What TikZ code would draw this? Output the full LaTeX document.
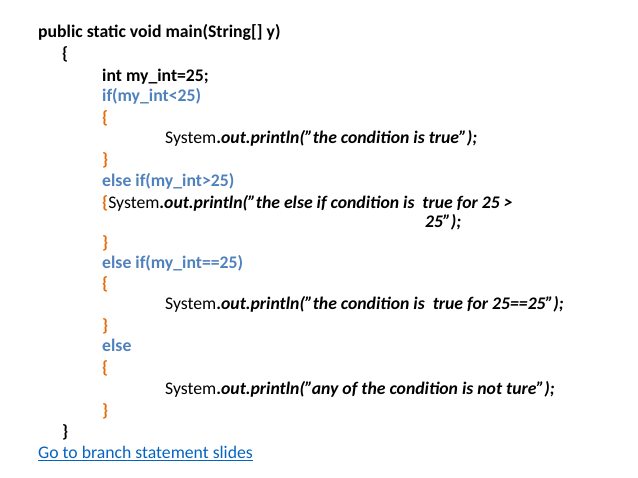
\documentclass[tikz,border=0pt]{standalone}
\usepackage{fontspec}
\setmainfont{Carlito}
\definecolor{kw}{HTML}{4F81BD}
\definecolor{br}{HTML}{E46C0A}
\definecolor{lk}{HTML}{0563C1}
\begin{document}
\begin{tikzpicture}[x=1pt,y=-1pt,
  t/.style={anchor=base west,inner sep=0pt,font=\fontsize{17.7}{20}\selectfont\bfseries}]
\useasboundingbox (0,0) rectangle (638,478);
\newcommand\sy{{\mdseries System}.}
\newcommand\q{\symbol{34}}
\node[t] (l1) at (38,38) {public static void main(String[] y)};
\node[t] (l2) at (62,60) {\{};
\node[t] (l3) at (102,82) {int my\_int=25;};
\node[t,text=kw] (l4) at (102,102) {if(my\_int<25)};
\node[t,text=br] (l5) at (102,124) {\{};
\node[t] (l6) at (165,144) {\sy\textit{out.println(\q the condition is true\q);}};
\node[t,text=br] (l7) at (102,166) {\}};
\node[t,text=kw] (l8) at (102,187) {else if(my\_int>25)};
\node[t] (l9) at (102,209) {\textcolor{br}{\{}\sy\textit{out.println(\q the else if condition is\ \ true for 25 >}};
\node[t] (l10) at (425,228) {\textit{25\q);}};
\node[t,text=br] (l11) at (102,249) {\}};
\node[t,text=kw] (l12) at (102,269) {else if(my\_int==25)};
\node[t,text=br] (l13) at (102,290) {\{};
\node[t] (l14) at (165,310) {\sy\textit{out.println(\q the condition is\ \ true for 25==25\q);}};
\node[t,text=br] (l15) at (102,332) {\}};
\node[t,text=kw] (l16) at (102,352) {else};
\node[t,text=br] (l17) at (102,374) {\{};
\node[t] (l18) at (165,395) {\sy\textit{out.println(\q any of the condition is not ture\q);}};
\node[t,text=br] (l19) at (102,417) {\}};
\node[t] (l20) at (62,438) {\}};
\node[t,font=\fontsize{17.7}{20}\selectfont,text=lk] (l21) at (38,459) {\underline{Go to branch statement slides}};
\end{tikzpicture}
\end{document}
